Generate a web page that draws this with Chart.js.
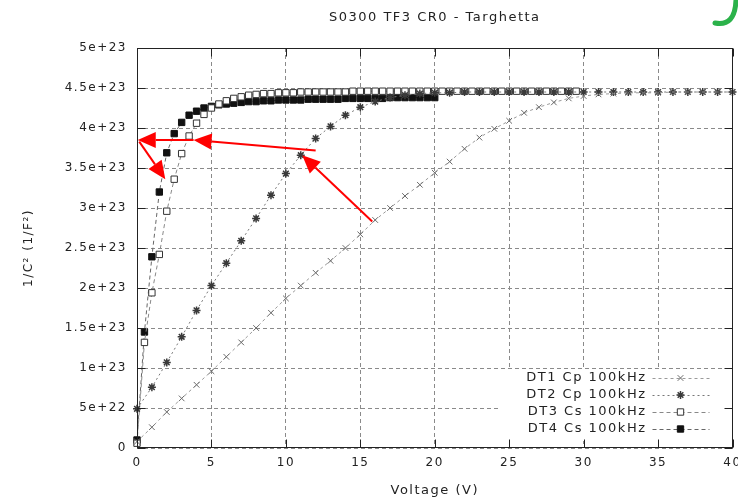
<!DOCTYPE html>
<html>
<head>
<meta charset="utf-8">
<title>CV profile - Targhetta</title>
<script src="https://cdn.jsdelivr.net/npm/chart.js@4.4.0/dist/chart.umd.min.js"></script>
<style>
  html, body { margin: 0; padding: 0; background: #fff; }
  canvas { display: block; }
</style>
</head>
<body>
<canvas id="cv" width="738" height="502"></canvas>
<script>
// 1/C^2 vs bias for the four test diodes, values in units of 1e23 1/F^2
const E23 = 1e23;
const TITLE = 'S0300 TF3 CR0 - Targhetta';
const X_TITLE = 'Voltage (V)';
const Y_TITLE = '1/C\u00b2 (1/F\u00b2)';
const seriesLabels = ['DT1 Cp 100kHz', 'DT2 Cp 100kHz', 'DT3 Cs 100kHz', 'DT4 Cs 100kHz'];

const cpVolts = [0, 1, 2, 3, 4, 5, 6, 7, 8, 9, 10, 11, 12, 13, 14, 15, 16, 17, 18, 19, 20,
  21, 22, 23, 24, 25, 26, 27, 28, 29, 30, 31, 32, 33, 34, 35, 36, 37, 38, 39, 40];
const dt1Vals = [0.08, 0.26, 0.45, 0.62, 0.79, 0.96, 1.14, 1.32, 1.50, 1.69, 1.87,
  2.03, 2.19, 2.34, 2.50, 2.67, 2.85, 3.00, 3.15, 3.29, 3.44,
  3.58, 3.74, 3.88, 3.99, 4.09, 4.19, 4.26, 4.32, 4.37, 4.40,
  4.42, 4.43, 4.44, 4.44, 4.44, 4.45, 4.45, 4.45, 4.45, 4.45];
const dt2Vals = [0.49, 0.76, 1.07, 1.39, 1.72, 2.03, 2.31, 2.59, 2.87, 3.16, 3.43,
  3.66, 3.87, 4.02, 4.16, 4.26, 4.33, 4.38, 4.41, 4.43, 4.44,
  4.44, 4.45, 4.45, 4.45, 4.45, 4.45, 4.45, 4.45, 4.45, 4.45,
  4.45, 4.45, 4.45, 4.45, 4.45, 4.45, 4.45, 4.45, 4.45, 4.45];

const dt3Volts = [0, 0.5, 1, 1.5, 2, 2.5, 3, 3.5, 4, 4.5, 5, 5.5, 6, 6.5, 7, 7.5, 8, 8.5, 9, 9.5,
  10, 10.5, 11, 11.5, 12, 12.5, 13, 13.5, 14, 14.5, 15, 15.5, 16, 16.5, 17, 17.5, 18, 18.5, 19, 19.5,
  20, 20.5, 21, 21.5, 22, 22.5, 23, 23.5, 24, 24.5, 25, 25.5, 26, 26.5, 27, 27.5, 28, 28.5, 29, 29.5];
const dt3Vals = [0.06, 1.32, 1.94, 2.42, 2.96, 3.36, 3.68, 3.90, 4.06, 4.17,
  4.25, 4.30, 4.34, 4.37, 4.39, 4.41, 4.42, 4.43, 4.43, 4.44,
  4.44, 4.44, 4.45, 4.45, 4.45, 4.45, 4.45, 4.45, 4.45, 4.46,
  4.46, 4.46, 4.46, 4.46, 4.46, 4.46, 4.46, 4.46, 4.46, 4.46,
  4.46, 4.46, 4.46, 4.46, 4.46, 4.46, 4.46, 4.46, 4.46, 4.46,
  4.46, 4.46, 4.46, 4.46, 4.46, 4.46, 4.46, 4.46, 4.46, 4.46];

const dt4Volts = [0, 0.5, 1, 1.5, 2, 2.5, 3, 3.5, 4, 4.5, 5, 5.5, 6, 6.5, 7, 7.5, 8, 8.5, 9, 9.5,
  10, 10.5, 11, 11.5, 12, 12.5, 13, 13.5, 14, 14.5, 15, 15.5, 16, 16.5, 17, 17.5, 18, 18.5, 19, 19.5, 20];
const dt4Vals = [0.10, 1.45, 2.39, 3.20, 3.69, 3.93, 4.07, 4.16, 4.21, 4.25,
  4.27, 4.29, 4.30, 4.31, 4.32, 4.33, 4.33, 4.34, 4.34, 4.35,
  4.35, 4.35, 4.35, 4.36, 4.36, 4.36, 4.36, 4.36, 4.37, 4.37,
  4.37, 4.37, 4.37, 4.37, 4.38, 4.38, 4.38, 4.38, 4.38, 4.38, 4.38];

// red annotation arrows, [fromV, from1/C2, toV, to1/C2] in units of 1e23
const arrows = [
  [15.8, 2.83, 11.1, 3.66],
  [12.0, 3.72, 3.8, 3.85],
  [3.8, 3.85, 0.05, 3.85],
  [0.15, 3.83, 1.9, 3.36]
];

function toPoints(volts, vals) {
  return volts.map((v, i) => ({ x: v, y: vals[i] * E23 }));
}

function fmtExp(v) {
  if (v === 0) return '0';
  return Number(v.toPrecision(3)).toExponential();
}

function drawArrow(ctx, x0, y0, x1, y1) {
  const ang = Math.atan2(y1 - y0, x1 - x0);
  const len = 18, hw = 8;
  const bx = x1 - len * Math.cos(ang), by = y1 - len * Math.sin(ang);
  ctx.beginPath();
  ctx.moveTo(x0, y0);
  ctx.lineTo(bx, by);
  ctx.stroke();
  ctx.beginPath();
  ctx.moveTo(x1, y1);
  ctx.lineTo(bx + hw * Math.sin(ang), by - hw * Math.cos(ang));
  ctx.lineTo(bx - hw * Math.sin(ang), by + hw * Math.cos(ang));
  ctx.closePath();
  ctx.fill();
}

const FONT = "'DejaVu Sans', sans-serif";
Chart.defaults.font.family = FONT;
Chart.defaults.font.size = 12;
Chart.defaults.color = '#222';

const decorations = {
  id: 'decorations',
  beforeDraw(chart) {
    chart.ctx.letterSpacing = '1.5px';
  },
  afterDatasetsDraw(chart) {
    const { ctx, chartArea: a, scales: { x, y } } = chart;
    ctx.save();

    // key box (opaque, no border)
    ctx.fillStyle = '#fff';
    ctx.fillRect(a.right - 233, a.bottom - 79, 232, 72);
    ctx.font = '13px ' + FONT;
    ctx.textAlign = 'right';
    ctx.textBaseline = 'middle';
    chart.data.datasets.forEach((ds, i) => {
      const yy = a.bottom - 70 + i * 17;
      ctx.fillStyle = '#222';
      ctx.fillText(ds.label, a.right - 86, yy);
      ctx.strokeStyle = ds.borderColor;
      ctx.lineWidth = 1;
      ctx.setLineDash(ds.borderDash);
      ctx.beginPath();
      ctx.moveTo(a.right - 80, yy + 0.5);
      ctx.lineTo(a.right - 23, yy + 0.5);
      ctx.stroke();
      ctx.setLineDash([]);
      ctx.fillStyle = ds.pointBackgroundColor;
      ctx.strokeStyle = ds.pointBorderColor;
      ctx.lineWidth = ds.pointBorderWidth;
      Chart.helpers.drawPoint(ctx, {
        pointStyle: ds.pointStyle, radius: ds.pointRadius,
        borderWidth: ds.pointBorderWidth, rotation: 0
      }, a.right - 52, yy);
    });

    // frame with inward tick marks on all four sides
    ctx.strokeStyle = '#222';
    ctx.lineWidth = 1;
    const L = Math.round(a.left) + 0.5, R = Math.round(a.right) - 0.5;
    const T = Math.round(a.top) + 0.5, B = Math.round(a.bottom) - 0.5;
    ctx.strokeRect(L, T, R - L, B - T);
    ctx.beginPath();
    x.ticks.forEach(t => {
      const px = Math.round(x.getPixelForValue(t.value)) + 0.5;
      ctx.moveTo(px, B); ctx.lineTo(px, B - 8);
      ctx.moveTo(px, T); ctx.lineTo(px, T + 8);
    });
    y.ticks.forEach(t => {
      const py = Math.round(y.getPixelForValue(t.value)) + 0.5;
      ctx.moveTo(L, py); ctx.lineTo(L + 8, py);
      ctx.moveTo(R, py); ctx.lineTo(R - 8, py);
    });
    ctx.stroke();

    // annotation arrows
    ctx.strokeStyle = '#ff0000';
    ctx.fillStyle = '#ff0000';
    ctx.lineWidth = 2;
    arrows.forEach(([v0, c0, v1, c1]) => {
      drawArrow(ctx,
        x.getPixelForValue(v0), y.getPixelForValue(c0 * E23),
        x.getPixelForValue(v1), y.getPixelForValue(c1 * E23));
    });

    // title centred over the plot
    ctx.fillStyle = '#222';
    ctx.font = '13px ' + FONT;
    ctx.textAlign = 'center';
    ctx.textBaseline = 'middle';
    ctx.fillText(TITLE, (a.left + a.right) / 2, 18);

    // green stroke in the top right corner
    ctx.strokeStyle = '#2bb24a';
    ctx.lineWidth = 5;
    ctx.lineCap = 'round';
    ctx.beginPath();
    ctx.moveTo(736, 0);
    ctx.quadraticCurveTo(735, 27, 715, 23);
    ctx.stroke();
    ctx.restore();
  }
};

const datasets = [
  {
    label: seriesLabels[0], data: toPoints(cpVolts, dt1Vals),
    borderColor: '#9a9a9a', borderDash: [3, 3], borderWidth: 1,
    pointStyle: 'crossRot', pointRadius: 4, pointBorderWidth: 1,
    pointBorderColor: '#6a6a6a', pointBackgroundColor: '#6a6a6a'
  },
  {
    label: seriesLabels[1], data: toPoints(cpVolts, dt2Vals),
    borderColor: '#777', borderDash: [2, 3], borderWidth: 1,
    pointStyle: 'star', pointRadius: 4, pointBorderWidth: 1.5,
    pointBorderColor: '#3a3a3a', pointBackgroundColor: '#3a3a3a'
  },
  {
    label: seriesLabels[2], data: toPoints(dt3Volts, dt3Vals),
    borderColor: '#888', borderDash: [4, 3], borderWidth: 1,
    pointStyle: 'rect', pointRadius: 4.5, pointBorderWidth: 1,
    pointBorderColor: '#333', pointBackgroundColor: '#fff'
  },
  {
    label: seriesLabels[3], data: toPoints(dt4Volts, dt4Vals),
    borderColor: '#666', borderDash: [4, 3], borderWidth: 1,
    pointStyle: 'rect', pointRadius: 4.5, pointBorderWidth: 1,
    pointBorderColor: '#111', pointBackgroundColor: '#111'
  }
];
datasets.forEach(ds => { ds.fill = false; ds.tension = 0; ds.clip = false; ds.pointHoverRadius = ds.pointRadius; });

new Chart(document.getElementById('cv'), {
  type: 'line',
  data: { datasets },
  options: {
    responsive: false,
    animation: false,
    layout: { padding: { top: 48, right: 5, left: 0, bottom: 0 } },
    plugins: { legend: { display: false }, tooltip: { enabled: false }, title: { display: false } },
    scales: {
      x: {
        type: 'linear', min: 0, max: 40,
        ticks: { stepSize: 5, padding: 8, maxRotation: 0, color: '#222', font: { size: 12 } },
        grid: { color: '#8a8a8a', drawTicks: false },
        border: { display: false, dash: [4, 3] },
        title: { display: true, text: X_TITLE, font: { size: 13 }, padding: { top: 0, bottom: 4 }, color: '#222' },
        afterFit(scale) { scale.height = 54; scale.paddingLeft = 0; scale.paddingRight = 0; }
      },
      y: {
        type: 'linear', min: 0, max: 5e23,
        ticks: { stepSize: 5e22, padding: 10, color: '#222', font: { size: 12 }, callback: v => fmtExp(v) },
        grid: { color: '#8a8a8a', drawTicks: false },
        border: { display: false, dash: [4, 3] },
        title: { display: true, text: Y_TITLE, font: { size: 12 }, padding: { top: 22, bottom: 0 }, color: '#222' },
        afterFit(scale) { scale.width = 137; }
      }
    }
  },
  plugins: [decorations]
});
</script>
</body>
</html>
